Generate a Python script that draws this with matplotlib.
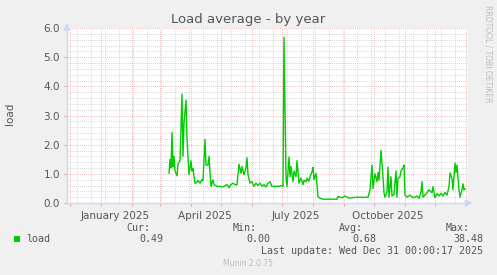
import numpy as np
import pandas as pd
import matplotlib
matplotlib.use("Agg")
import matplotlib.pyplot as plt
import matplotlib.dates as mdates
from matplotlib.transforms import blended_transform_factory

# day number within 2025 (0 = Jan 1) and the load average
day_of_2025 = [
    68, 69, 70, 71, 72, 73, 74, 76, 77, 79, 81, 82, 83, 85, 86, 88, 90, 91, 92, 94,
    96, 97, 99, 101, 102, 104, 105, 107, 108, 110, 112, 113, 116, 119, 122, 126, 128, 130, 132, 134,
    136, 138, 140, 141, 143, 145, 146, 147, 149, 151, 153, 155, 157, 159, 161, 163, 165, 167, 169, 171,
    174, 177, 181, 182, 183, 185, 186, 188, 189, 190, 192, 193, 195, 196, 198, 200, 202, 203, 205, 206,
    208, 209, 211, 212, 213, 215, 217, 219, 222, 229, 236, 237, 241, 244, 247, 249, 256, 262, 267, 269,
    271, 272, 274, 276, 277, 278, 280, 282, 283, 284, 286, 287, 288, 290, 291, 293, 295, 296, 297, 299,
    300, 302, 303, 304, 306, 309, 312, 316, 318, 320, 321, 322, 324, 326, 328, 331, 332, 334, 336, 338,
    340, 342, 344, 346, 348, 349, 351, 352, 354, 355, 356, 358, 359, 361, 362, 363, 364,
]
load = [
    1.02, 1.5, 1.2, 2.42, 1.25, 1.6, 1.1, 0.93, 1.35, 1.45, 3.73, 1.6, 2.73, 3.53, 2.2, 0.97, 1.45, 1.1, 1.18, 0.67,
    0.72, 0.78, 0.68, 0.8, 0.77, 2.18, 1.3, 1.3, 1.6, 0.57, 0.8, 0.63, 0.57, 0.57, 0.55, 0.63, 0.52, 0.63, 0.68, 0.63,
    0.62, 1.33, 1.02, 1.25, 0.97, 1.2, 1.55, 0.97, 0.68, 0.73, 0.57, 0.68, 0.6, 0.68, 0.57, 0.63, 0.55, 0.68, 0.73, 0.57,
    0.57, 0.57, 0.6, 0.57, 5.68, 0.87, 0.57, 1.58, 0.9, 1.25, 0.73, 1.1, 0.9, 1.45, 0.68, 0.85, 0.63, 0.78, 0.73, 0.85,
    0.75, 0.9, 1.07, 1.22, 0.8, 1.02, 0.22, 0.16, 0.13, 0.13, 0.13, 0.22, 0.18, 0.24, 0.18, 0.17, 0.2, 0.19, 0.2, 0.45,
    1.3, 0.5, 1.0, 0.73, 1.05, 0.78, 1.8, 0.9, 0.35, 0.2, 0.37, 1.23, 0.2, 0.9, 0.24, 0.3, 1.1, 0.2, 0.84, 0.9,
    1.1, 1.2, 1.3, 0.27, 0.2, 0.27, 0.18, 0.24, 0.16, 0.37, 0.73, 0.2, 0.27, 0.35, 0.45, 0.35, 0.56, 0.18, 0.33, 0.24,
    0.33, 0.24, 0.36, 0.27, 0.56, 1.03, 0.84, 0.45, 1.36, 1.05, 1.3, 0.45, 0.2, 0.45, 0.66, 0.45, 0.48,
]

month_labels = ["January 2025", "April 2025", "July 2025", "October 2025"]
label_dates = ["2025-01-15", "2025-04-15", "2025-07-15", "2025-10-15"]

legend_name = "load"
cur, vmin, avg, vmax = "0.49", "0.00", "0.68", "38.48"
last_update = "Last update: Wed Dec 31 00:00:17 2025"

W, H = 497, 275
BG = "#F0F0F0"
TXT = "#555555"
AXIS = "#CFD6F8"
MAJ = "#E9A3A3"
MIN = "#C8C8C8"
GREEN = "#00CC00"

dates = pd.Timestamp("2025-01-01") + pd.to_timedelta(day_of_2025, unit="D")

fig = plt.figure(figsize=(W / 100, H / 100), dpi=100, facecolor=BG)
ax = fig.add_axes([67 / W, 1 - 203 / H, (468 - 67) / W, (203 - 28) / H])
ax.set_facecolor("white")

ax.plot(dates, load, color=GREEN, lw=1.0, zorder=3)

ax.set_xlim(pd.Timestamp("2024-11-28"), pd.Timestamp("2026-01-03"))
ax.set_ylim(0, 6)

# grid
ax.xaxis.set_major_locator(mdates.MonthLocator())
ax.xaxis.set_minor_locator(mdates.DayLocator(bymonthday=range(1, 32)))
minor_days = pd.date_range("2024-12-08", "2026-01-03", freq="14D")
ax.set_xticks(minor_days, minor=True)
ax.set_yticks(np.arange(0, 6.1, 1.0))
ax.set_yticks(np.arange(0, 6.01, 0.2), minor=True)
ax.set_yticklabels([f"{v:.1f}" for v in np.arange(0, 6.1, 1.0)])
ax.set_xticklabels([])

ax.grid(which="minor", color=MIN, lw=0.6, linestyle=(0, (1, 1.5)), zorder=1)
ax.grid(which="major", color=MAJ, lw=0.6, linestyle=(0, (1, 1.5)), zorder=2)

ax.tick_params(axis="x", which="major", length=2, color=MAJ, pad=0)
ax.tick_params(axis="x", which="minor", length=0)
ax.tick_params(axis="y", which="major", length=2, color=MAJ, labelsize=7.5, labelcolor=TXT, pad=3)
ax.tick_params(axis="y", which="minor", length=0)

for s in ["top", "right"]:
    ax.spines[s].set_visible(False)
for s in ["left", "bottom"]:
    ax.spines[s].set_color(AXIS)
    ax.spines[s].set_linewidth(1)

# axis arrows
ax.annotate("", xy=(0, 1.045), xytext=(0, 0.99), xycoords="axes fraction",
            arrowprops=dict(arrowstyle="-|>,head_width=0.2,head_length=0.4", color=AXIS, lw=1))
ax.annotate("", xy=(1.018, 0), xytext=(0.99, 0), xycoords="axes fraction",
            arrowprops=dict(arrowstyle="-|>,head_width=0.2,head_length=0.4", color=AXIS, lw=1))

trans = blended_transform_factory(ax.transData, ax.transAxes)
for lbl, d in zip(month_labels, label_dates):
    ax.text(pd.Timestamp(d), -0.045, lbl, transform=trans, ha="center", va="top",
            fontsize=7.5, color=TXT)

def px(x, y):
    return x / W, 1 - y / H

fig.text(*px(248, 19), "Load average - by year", ha="center", va="center", fontsize=9.5, color=TXT)
fig.text(*px(10, 114), "load", ha="center", va="center", rotation=90, fontsize=7.5, color=TXT)
fig.text(*px(488, 5), "RRDTOOL / TOBI OETIKER", ha="center", va="top", rotation=270,
         fontsize=5.5, color="#BDBDBD")

mono = dict(family="DejaVu Sans Mono", fontsize=7.2, color=TXT, va="center")
fig.text(*px(150, 228), "Cur:", ha="right", **mono)
fig.text(*px(257, 228), "Min:", ha="right", **mono)
fig.text(*px(363, 228), "Avg:", ha="right", **mono)
fig.text(*px(470, 228), "Max:", ha="right", **mono)
fig.patches.append(plt.Rectangle(px(14, 242), 6 / W, 6 / H, transform=fig.transFigure,
                                 facecolor=GREEN, edgecolor="none"))
fig.text(*px(26, 239), legend_name, ha="left", **mono)
fig.text(*px(163, 239), cur, ha="right", **mono)
fig.text(*px(270, 239), vmin, ha="right", **mono)
fig.text(*px(376, 239), avg, ha="right", **mono)
fig.text(*px(483, 239), vmax, ha="right", **mono)
fig.text(*px(483, 251), last_update, ha="right", **mono)
fig.text(*px(248, 264), "Munin 2.0.75", ha="center", va="center", fontsize=5.5, color="#BDBDBD")

fig.savefig("out.png", dpi=100, facecolor=BG)
